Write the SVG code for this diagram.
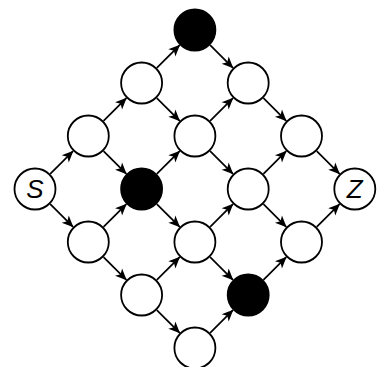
<svg xmlns="http://www.w3.org/2000/svg" width="386" height="367" viewBox="0 0 386 367">
<style>
.n{fill:#fff;stroke:#000;stroke-width:1.8}
.b{fill:#000;stroke:#000;stroke-width:1.8}
.e line{stroke:#000;stroke-width:1.7;marker-end:url(#ah)}
.t{font-family:"Liberation Sans",Arial,sans-serif;font-style:italic;font-size:26px;text-anchor:middle;fill:#000}
</style>
<defs>
<marker id="ah" viewBox="-12 -6 13 12" markerWidth="13" markerHeight="12" refX="0" refY="0" orient="auto" markerUnits="userSpaceOnUse">
<path d="M0.5,0 L-11,-5 L-8,0 L-11,5 Z" fill="#000"/>
</marker>
</defs>
<rect width="386" height="367" fill="#fff"/>
<g id="connectors" class="e">
<line x1="50.25" y1="173.84" x2="73.05" y2="151.16"/>
<line x1="50.25" y1="204.16" x2="73.05" y2="226.84"/>
<line x1="103.55" y1="120.84" x2="126.35" y2="98.16"/>
<line x1="103.55" y1="151.16" x2="126.35" y2="173.84"/>
<line x1="103.55" y1="226.84" x2="126.35" y2="204.16"/>
<line x1="103.55" y1="257.16" x2="126.35" y2="279.84"/>
<line x1="156.85" y1="67.84" x2="179.65" y2="45.16"/>
<line x1="156.85" y1="98.16" x2="179.65" y2="120.84"/>
<line x1="156.85" y1="173.84" x2="179.65" y2="151.16"/>
<line x1="156.85" y1="204.16" x2="179.65" y2="226.84"/>
<line x1="156.85" y1="279.84" x2="179.65" y2="257.16"/>
<line x1="156.85" y1="310.16" x2="179.65" y2="332.84"/>
<line x1="210.15" y1="45.16" x2="232.95" y2="67.84"/>
<line x1="210.15" y1="120.84" x2="232.95" y2="98.16"/>
<line x1="210.15" y1="151.16" x2="232.95" y2="173.84"/>
<line x1="210.15" y1="226.84" x2="232.95" y2="204.16"/>
<line x1="210.15" y1="257.16" x2="232.95" y2="279.84"/>
<line x1="210.15" y1="332.84" x2="232.95" y2="310.16"/>
<line x1="263.45" y1="98.16" x2="286.25" y2="120.84"/>
<line x1="263.45" y1="173.84" x2="286.25" y2="151.16"/>
<line x1="263.45" y1="204.16" x2="286.25" y2="226.84"/>
<line x1="263.45" y1="279.84" x2="286.25" y2="257.16"/>
<line x1="316.75" y1="151.16" x2="339.55" y2="173.84"/>
<line x1="316.75" y1="226.84" x2="339.55" y2="204.16"/>
</g>
<g id="S"><circle class="n" cx="35" cy="189" r="20.5"/><text class="t" x="35" y="198.3">S</text></g>
<g id="n1a"><circle class="n" cx="88.3" cy="136" r="20.5"/></g>
<g id="n1b"><circle class="n" cx="88.3" cy="242" r="20.5"/></g>
<g id="n2a"><circle class="n" cx="141.6" cy="83" r="20.5"/></g>
<g id="n2b"><circle class="b" cx="141.6" cy="189" r="20.5"/></g>
<g id="n2c"><circle class="n" cx="141.6" cy="295" r="20.5"/></g>
<g id="n3a"><circle class="b" cx="194.9" cy="30" r="20.5"/></g>
<g id="n3b"><circle class="n" cx="194.9" cy="136" r="20.5"/></g>
<g id="n3c"><circle class="n" cx="194.9" cy="242" r="20.5"/></g>
<g id="n3d"><circle class="n" cx="194.9" cy="348" r="20.5"/></g>
<g id="n4a"><circle class="n" cx="248.2" cy="83" r="20.5"/></g>
<g id="n4b"><circle class="n" cx="248.2" cy="189" r="20.5"/></g>
<g id="n4c"><circle class="b" cx="248.2" cy="295" r="20.5"/></g>
<g id="n5a"><circle class="n" cx="301.5" cy="136" r="20.5"/></g>
<g id="n5b"><circle class="n" cx="301.5" cy="242" r="20.5"/></g>
<g id="Z"><circle class="n" cx="354.8" cy="189" r="20.5"/><text class="t" x="354.8" y="198.3">Z</text></g>
</svg>
